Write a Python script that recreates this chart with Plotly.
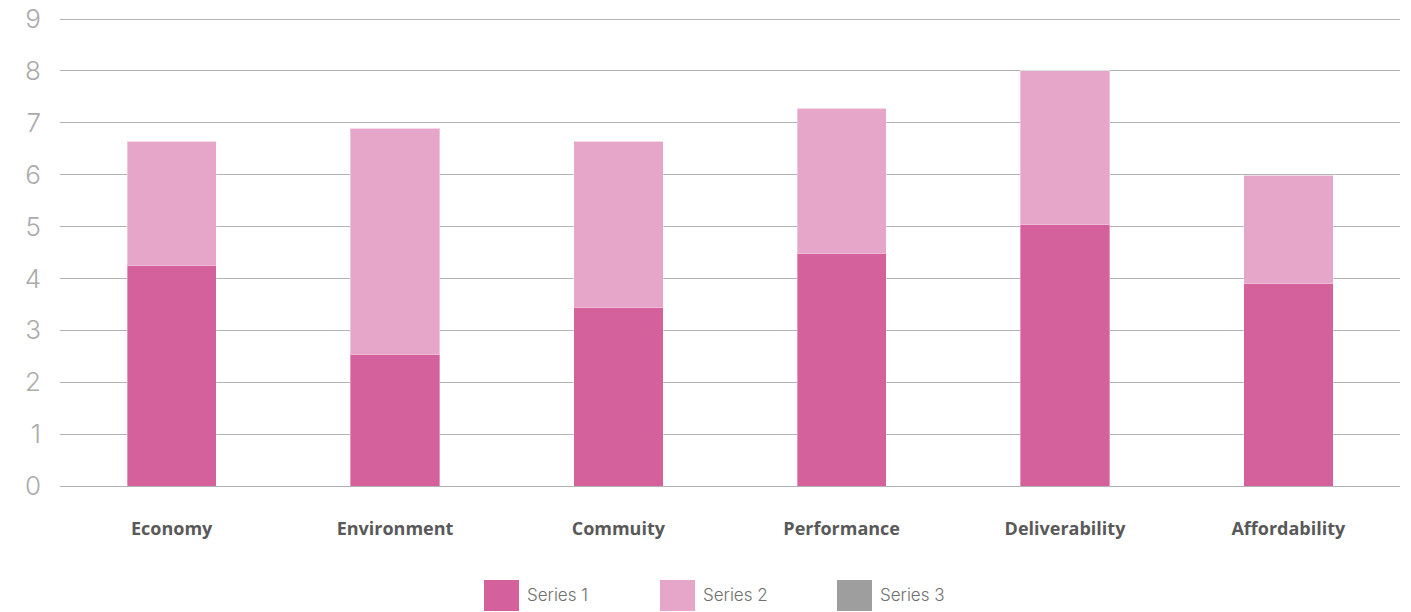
import plotly.graph_objects as go

categories = ["Economy", "Environment", "Commuity", "Performance", "Deliverability", "Affordability"]
series_names = ["Series 1", "Series 2", "Series 3"]
series1 = [4.26, 2.54, 3.45, 4.49, 5.05, 3.91]
series2 = [2.39, 4.36, 3.20, 2.79, 2.95, 2.08]
series3 = [0, 0, 0, 0, 0, 0]
colors = ["#D4609C", "#E6A6C9", "#9E9E9E"]
y_ticks = list(range(0, 10))

W, H = 1411, 612
ML, MR, MT, MB = 60, 11, 16, 126
PW, PH = W - ML - MR, H - MT - MB

fig = go.Figure()
for name, vals, col in zip(series_names, [series1, series2, series3], colors):
    fig.add_trace(go.Bar(
        x=categories, y=vals, name=name, marker_color=col,
        marker_line=dict(color="rgba(255,255,255,0.35)", width=1),
        showlegend=False,
    ))

# legend drawn as shapes + text (large square swatches)
leg_x = [484, 660, 837]
for name, col, lx in zip(series_names, colors, leg_x):
    x0 = (lx - ML) / PW
    x1 = (lx + 35 - ML) / PW
    y0 = (MT + PH - 611) / PH
    y1 = (MT + PH - 580) / PH
    fig.add_shape(type="rect", xref="paper", yref="paper", x0=x0, x1=x1, y0=y0, y1=y1,
                  fillcolor=col, line_width=0)
    fig.add_annotation(xref="paper", yref="paper", x=(lx + 41 - ML) / PW, y=(MT + PH - 595) / PH,
                       text=name, showarrow=False, xanchor="left", yanchor="middle",
                       font=dict(family="Inter", size=17, color="#707070", weight=300))

fig.update_layout(
    width=W, height=H,
    margin=dict(l=ML, r=MR, t=MT, b=MB),
    barmode="stack", bargap=0.6,
    plot_bgcolor="white", paper_bgcolor="white",
    xaxis=dict(showgrid=False, showline=False, ticks="", ticklabelstandoff=30, automargin=False,
               tickfont=dict(family="Open Sans", size=18, color="#595959", weight=700)),
    yaxis=dict(range=[0, 9.06], tickvals=y_ticks, showgrid=True, gridcolor="#b3b3b3", gridwidth=1,
               zeroline=True, zerolinecolor="#b3b3b3", zerolinewidth=1, ticks="",
               ticklabelstandoff=18, automargin=False,
               tickfont=dict(family="Inter", size=26, color="#ababab", weight=300)),
    showlegend=False,
)

fig.write_html("out.html")
